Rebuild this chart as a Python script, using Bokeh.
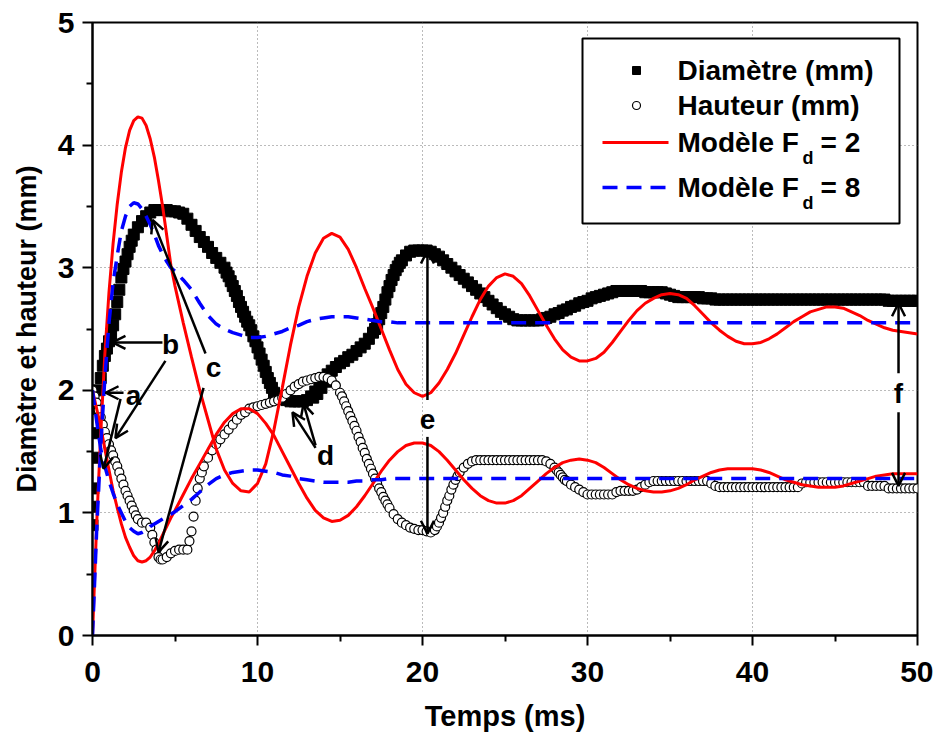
import numpy as np
from bokeh.plotting import figure
from bokeh.models import Range1d, Arrow, OpenHead, Label, FixedTicker
from bokeh.embed import file_html
from bokeh.resources import INLINE

# ---------------- data ----------------
# measured series, sampled every 0.25 ms from 0 to 50 ms
time_meas = np.round(np.arange(0, 50.0001, 0.25), 3)
diametre = [
    0.9, 1.85, 2.1, 2.28, 2.4, 2.53, 2.72, 2.92, 3.05, 3.17, 3.27, 3.33, 3.38, 3.42, 3.45, 3.47, 3.47, 3.47, 3.47, 3.46,
    3.46, 3.45, 3.44, 3.4, 3.35, 3.3, 3.25, 3.21, 3.17, 3.12, 3.08, 3.04, 3.0, 2.93, 2.85, 2.77, 2.68, 2.6, 2.53, 2.44,
    2.35, 2.25, 2.15, 2.06, 1.98, 1.95, 1.93, 1.92, 1.91, 1.91, 1.91, 1.91, 1.92, 1.95, 1.99, 2.04, 2.09, 2.13, 2.16, 2.19,
    2.22, 2.24, 2.27, 2.29, 2.32, 2.35, 2.38, 2.42, 2.47, 2.54, 2.63, 2.74, 2.85, 2.94, 3.01, 3.06, 3.1, 3.13, 3.14, 3.14,
    3.14, 3.14, 3.13, 3.11, 3.09, 3.06, 3.03, 3.0, 2.97, 2.94, 2.91, 2.88, 2.85, 2.82, 2.79, 2.76, 2.73, 2.7, 2.67, 2.64,
    2.62, 2.6, 2.58, 2.57, 2.57, 2.57, 2.57, 2.57, 2.57, 2.58, 2.59, 2.6, 2.62, 2.63, 2.65, 2.66, 2.68, 2.69, 2.71, 2.72,
    2.73, 2.75, 2.76, 2.77, 2.78, 2.79, 2.8, 2.81, 2.81, 2.81, 2.81, 2.81, 2.81, 2.81, 2.8, 2.8, 2.8, 2.8, 2.8, 2.79,
    2.78, 2.77, 2.76, 2.76, 2.76, 2.76, 2.76, 2.76, 2.75, 2.75, 2.75, 2.74, 2.74, 2.74, 2.74, 2.74, 2.74, 2.74, 2.74, 2.74,
    2.74, 2.74, 2.74, 2.74, 2.74, 2.74, 2.74, 2.74, 2.74, 2.74, 2.74, 2.74, 2.74, 2.74, 2.74, 2.74, 2.74, 2.74, 2.74, 2.74,
    2.74, 2.74, 2.74, 2.74, 2.74, 2.74, 2.74, 2.74, 2.74, 2.74, 2.74, 2.74, 2.74, 2.73, 2.73, 2.73, 2.73, 2.73, 2.73, 2.73,
    2.73,
]
# extra diameter readings where the curve is steep
diam_extra_t = [0.025, 0.05, 0.1, 0.15, 0.375, 0.625, 0.875, 1.125, 1.375, 1.625, 1.875, 2.125, 2.375,
                8.125, 8.375, 8.625, 8.875, 9.125, 9.375, 9.625, 9.875, 10.125, 10.375, 10.625, 10.875,
                13.375, 13.625, 13.875, 14.125, 14.375,
                17.125, 17.375, 17.625, 17.875, 18.125, 18.375, 18.625]
diam_extra = [1.05, 1.2, 1.45, 1.65, 2.0, 2.2, 2.34, 2.46, 2.62, 2.82, 2.99, 3.11, 3.22,
              2.96, 2.89, 2.81, 2.72, 2.64, 2.56, 2.49, 2.4, 2.3, 2.2, 2.1, 2.02,
              1.94, 1.97, 2.02, 2.07, 2.11,
              2.5, 2.58, 2.68, 2.8, 2.9, 2.98, 3.04]
hauteur = [
    2.0, 1.9, 1.78, 1.66, 1.56, 1.47, 1.38, 1.28, 1.18, 1.1, 1.02, 0.95, 0.92, 0.92, 0.88, 0.76, 0.64, 0.62, 0.64, 0.67,
    0.69, 0.7, 0.7, 0.7, 0.85, 1.1, 1.28, 1.38, 1.45, 1.51, 1.56, 1.6, 1.64, 1.68, 1.72, 1.76, 1.8, 1.82, 1.85, 1.86,
    1.87, 1.88, 1.89, 1.9, 1.91, 1.92, 1.94, 1.97, 2.0, 2.03, 2.05, 2.07, 2.08, 2.09, 2.1, 2.11, 2.11, 2.1, 2.08, 2.04,
    1.98, 1.91, 1.83, 1.75, 1.67, 1.58, 1.49, 1.4, 1.32, 1.24, 1.17, 1.1, 1.04, 0.99, 0.95, 0.92, 0.9, 0.88, 0.87, 0.86,
    0.86, 0.85, 0.84, 0.86, 0.92, 1.0, 1.1, 1.19, 1.27, 1.33, 1.37, 1.4, 1.42, 1.43, 1.43, 1.43, 1.43, 1.43, 1.43, 1.43,
    1.43, 1.43, 1.43, 1.43, 1.43, 1.43, 1.43, 1.43, 1.43, 1.43, 1.42, 1.4, 1.37, 1.33, 1.29, 1.26, 1.23, 1.21, 1.19, 1.17,
    1.15, 1.15, 1.15, 1.15, 1.15, 1.15, 1.15, 1.17, 1.18, 1.18, 1.18, 1.18, 1.19, 1.21, 1.23, 1.25, 1.26, 1.26, 1.26, 1.26,
    1.26, 1.26, 1.26, 1.26, 1.26, 1.26, 1.26, 1.26, 1.26, 1.26, 1.24, 1.22, 1.21, 1.21, 1.21, 1.21, 1.21, 1.21, 1.21, 1.21,
    1.21, 1.21, 1.21, 1.21, 1.21, 1.21, 1.21, 1.21, 1.21, 1.21, 1.21, 1.21, 1.24, 1.25, 1.25, 1.25, 1.25, 1.25, 1.25, 1.25,
    1.25, 1.25, 1.25, 1.25, 1.25, 1.25, 1.25, 1.25, 1.22, 1.22, 1.22, 1.22, 1.22, 1.2, 1.2, 1.2, 1.2, 1.2, 1.2, 1.2,
    1.2,
]
# extra height readings where the curve is steep
haut_extra_t = [0.125, 0.375, 0.625, 0.875, 1.125, 1.375, 1.625, 1.875, 2.125, 2.375, 2.625,
                3.625, 3.875, 4.125, 5.875, 6.125, 6.375, 6.625,
                15.125, 15.375, 15.625, 15.875, 16.125, 16.375, 16.625, 16.875, 17.125, 17.375, 17.625, 17.875,
                20.875, 21.125, 21.375, 21.625, 21.875, 22.125, 28.125, 28.375, 28.625]
haut_extra = [1.95, 1.84, 1.72, 1.61, 1.51, 1.42, 1.33, 1.23, 1.14, 1.06, 0.98,
              0.82, 0.7, 0.62, 0.77, 0.97, 1.2, 1.33,
              1.95, 1.87, 1.79, 1.71, 1.62, 1.53, 1.44, 1.36, 1.28, 1.2, 1.13, 1.07,
              0.89, 0.96, 1.05, 1.14, 1.23, 1.3, 1.35, 1.31, 1.27]

# model curves: 0.25 ms steps up to 5 ms, then 0.5 ms steps
time_model = np.round(np.concatenate([np.arange(0, 5, 0.25), np.arange(5, 50.0001, 0.5)]), 3)
modele2_diam = [
    0.0, 0.9, 1.65, 2.3, 2.8, 3.2, 3.52, 3.78, 3.98, 4.12, 4.2, 4.23, 4.22, 4.16, 4.05, 3.9, 3.71, 3.5, 3.26, 3.02,
    2.85, 2.55, 2.27, 2.0, 1.76, 1.52, 1.35, 1.24, 1.18, 1.17,
    1.24, 1.4, 1.68, 2.02, 2.37, 2.68, 2.93, 3.12, 3.24, 3.28,
    3.25, 3.15, 3.0, 2.83, 2.67, 2.5, 2.33, 2.17, 2.05, 1.98,
    1.95, 1.98, 2.06, 2.17, 2.3, 2.45, 2.6, 2.74, 2.85, 2.92,
    2.95, 2.93, 2.87, 2.77, 2.65, 2.53, 2.42, 2.33, 2.27, 2.24,
    2.24, 2.26, 2.31, 2.39, 2.48, 2.57, 2.65, 2.71, 2.75, 2.78,
    2.79, 2.78, 2.75, 2.69, 2.62, 2.55, 2.49, 2.44, 2.4, 2.38,
    2.38, 2.39, 2.42, 2.46, 2.51, 2.56, 2.6, 2.64, 2.66, 2.68,
    2.68, 2.67, 2.64, 2.61, 2.57, 2.54, 2.51, 2.49, 2.48, 2.47,
    2.46,
]
modele2_haut = [
    2.0, 1.85, 1.7, 1.52, 1.35, 1.18, 1.04, 0.91, 0.8, 0.72, 0.65, 0.61, 0.6, 0.61, 0.64, 0.69, 0.75, 0.82, 0.89, 0.96,
    1.02, 1.15, 1.28, 1.4, 1.52, 1.64, 1.74, 1.81, 1.85, 1.85,
    1.81, 1.73, 1.63, 1.5, 1.37, 1.24, 1.12, 1.02, 0.96, 0.93,
    0.94, 0.98, 1.05, 1.14, 1.24, 1.34, 1.43, 1.5, 1.55, 1.57,
    1.57, 1.55, 1.5, 1.43, 1.35, 1.27, 1.2, 1.14, 1.1, 1.08,
    1.08, 1.1, 1.14, 1.2, 1.26, 1.32, 1.37, 1.41, 1.43, 1.44,
    1.43, 1.41, 1.37, 1.32, 1.27, 1.23, 1.2, 1.18, 1.17, 1.17,
    1.18, 1.2, 1.23, 1.27, 1.3, 1.33, 1.35, 1.36, 1.36, 1.36,
    1.36, 1.35, 1.33, 1.3, 1.27, 1.25, 1.23, 1.22, 1.21, 1.21,
    1.21, 1.22, 1.24, 1.26, 1.28, 1.3, 1.31, 1.32, 1.32, 1.32,
    1.32,
]
modele8_diam = [
    0.0, 0.85, 1.55, 2.1, 2.55, 2.88, 3.1, 3.3, 3.42, 3.5, 3.53, 3.52, 3.48, 3.42, 3.35, 3.27, 3.18, 3.11, 3.05, 3.0,
    2.97, 2.9, 2.82, 2.71, 2.61, 2.54, 2.5, 2.47, 2.45, 2.43,
    2.43, 2.44, 2.46, 2.48, 2.51, 2.53, 2.56, 2.58, 2.59, 2.6,
    2.6, 2.6, 2.59, 2.58, 2.57, 2.56, 2.56, 2.55, 2.55, 2.55,
    2.55, 2.55, 2.55, 2.55, 2.55, 2.55, 2.55, 2.55, 2.55, 2.55,
    2.55, 2.55, 2.55, 2.55, 2.55, 2.55, 2.55, 2.55, 2.55, 2.55,
    2.55, 2.55, 2.55, 2.55, 2.55, 2.55, 2.55, 2.55, 2.55, 2.55,
    2.55, 2.55, 2.55, 2.55, 2.55, 2.55, 2.55, 2.55, 2.55, 2.55,
    2.55, 2.55, 2.55, 2.55, 2.55, 2.55, 2.55, 2.55, 2.55, 2.55,
    2.55, 2.55, 2.55, 2.55, 2.55, 2.55, 2.55, 2.55, 2.55, 2.55,
    2.55,
]
modele8_haut = [
    2.0, 1.75, 1.52, 1.38, 1.26, 1.16, 1.07, 1.0, 0.93, 0.88, 0.85, 0.83, 0.84, 0.86, 0.89, 0.91, 0.93, 0.95, 0.97, 0.99,
    1.01, 1.06, 1.11, 1.17, 1.23, 1.28, 1.31, 1.33, 1.34, 1.35,
    1.35, 1.34, 1.33, 1.31, 1.3, 1.28, 1.27, 1.26, 1.25, 1.25,
    1.25, 1.25, 1.26, 1.26, 1.27, 1.27, 1.28, 1.28, 1.28, 1.28,
    1.28, 1.28, 1.28, 1.28, 1.28, 1.28, 1.28, 1.28, 1.28, 1.28,
    1.28, 1.28, 1.28, 1.28, 1.28, 1.28, 1.28, 1.28, 1.28, 1.28,
    1.28, 1.28, 1.28, 1.28, 1.28, 1.28, 1.28, 1.28, 1.28, 1.28,
    1.28, 1.28, 1.28, 1.28, 1.28, 1.28, 1.28, 1.28, 1.28, 1.28,
    1.28, 1.28, 1.28, 1.28, 1.28, 1.28, 1.28, 1.28, 1.28, 1.28,
    1.28, 1.28, 1.28, 1.28, 1.28, 1.28, 1.28, 1.28, 1.28, 1.28,
    1.28,
]

x_ticks = [0, 10, 20, 30, 40, 50]
x_minor = [5, 15, 25, 35, 45]
y_ticks = [0, 1, 2, 3, 4, 5]
y_minor = [0.5, 1.5, 2.5, 3.5, 4.5]

legend_labels = ["Diamètre (mm)", "Hauteur (mm)", "Modèle F", "Modèle F"]
legend_subs = ["", "", "d", "d"]
legend_tails = ["", "", "= 2", "= 8"]

# ---------------- figure ----------------
FONT = "Liberation Sans"
X0, X1, Y0, Y1 = 0, 50, 0, 5
FW, FH = 825, 613
LEFT, TOP = 92, 22

p = figure(frame_width=FW, frame_height=FH,
           x_range=Range1d(X0, X1), y_range=Range1d(Y0, Y1),
           output_backend="svg", toolbar_location=None,
           min_border_left=LEFT, min_border_right=16, min_border_top=TOP, min_border_bottom=102,
           background_fill_color="white", border_fill_color="white")
p.outline_line_color = "black"
p.outline_line_width = 2

for ax, ticks, minor in ((p.xaxis[0], x_ticks, x_minor), (p.yaxis[0], y_ticks, y_minor)):
    ax.ticker = FixedTicker(ticks=ticks, minor_ticks=minor)
    ax.axis_line_width = 2
    ax.major_tick_line_width = 2
    ax.minor_tick_line_width = 2
    ax.major_tick_out = 10
    ax.major_tick_in = 0
    ax.minor_tick_out = 6
    ax.minor_tick_in = 0
    ax.major_label_text_font = FONT
    ax.major_label_text_font_size = "30px"
    ax.major_label_text_font_style = "bold"
    ax.major_label_text_color = "black"
    ax.axis_label_text_font = FONT
    ax.axis_label_text_font_style = "bold"
    ax.axis_label_text_color = "black"

p.xaxis.axis_label = "Temps (ms)"
p.yaxis.axis_label = "Diamètre et hauteur (mm)"
p.xaxis.axis_label_text_font_size = "29px"
p.yaxis.axis_label_text_font_size = "27px"
p.xaxis.major_label_standoff = 16
p.yaxis.major_label_standoff = 8
p.xaxis.axis_label_standoff = 15
p.yaxis.axis_label_standoff = 13

p.xgrid.ticker = FixedTicker(ticks=x_ticks[1:-1])
p.ygrid.ticker = FixedTicker(ticks=y_ticks[1:-1])
for g in (p.xgrid[0], p.ygrid[0]):
    g.grid_line_color = "#777777"
    g.grid_line_dash = "1 3"
    g.grid_line_width = 1

# measured data
d_t = np.concatenate([time_meas, diam_extra_t])
d_v = np.concatenate([diametre, diam_extra])
o = np.argsort(d_t, kind="stable")
p.scatter(d_t[o], d_v[o], marker="square", size=11, fill_color="black", line_color="black")
h_t = np.concatenate([time_meas, haut_extra_t])
h_v = np.concatenate([hauteur, haut_extra])
o = np.argsort(h_t, kind="stable")
p.scatter(h_t[o], h_v[o], marker="circle", size=9, fill_color="white", line_color="black", line_width=1.2)

# models
RED, BLUE = "#ff0000", "#0000ff"
p.line(time_model, modele2_diam, line_color=RED, line_width=3)
p.line(time_model, modele2_haut, line_color=RED, line_width=3)
p.line(time_model, modele8_diam, line_color=BLUE, line_width=3.5, line_dash="15 9")
p.line(time_model, modele8_haut, line_color=BLUE, line_width=3.5, line_dash="15 9")

# ---------------- annotations ----------------
arrows = [
    ((1.88, 1.98), (0.79, 1.98)),
    ((1.70, 1.93), (0.67, 1.36)),
    ((4.24, 2.39), (1.21, 2.39)),
    ((4.42, 2.24), (1.39, 1.61)),
    ((6.85, 2.30), (3.64, 3.39)),
    ((6.73, 2.02), (4.00, 0.68)),
    ((13.52, 1.53), (12.12, 1.82)),
    ((13.52, 1.55), (12.79, 1.89)),
    ((20.30, 1.92), (20.30, 3.14)),
    ((20.30, 1.62), (20.30, 0.83)),
    ((48.85, 2.14), (48.85, 2.71)),
    ((48.85, 1.82), (48.85, 1.22)),
]
for (xs, ys), (xe, ye) in arrows:
    p.add_layout(Arrow(x_start=xs, y_start=ys, x_end=xe, y_end=ye, line_width=2.5, line_color="black",
                       end=OpenHead(size=13, line_width=2.5, line_color="black")))

letters = [("a", 2.48, 1.96), ("b", 4.73, 2.37), ("c", 7.33, 2.19),
           ("d", 14.12, 1.47), ("e", 20.30, 1.76), ("f", 48.85, 1.97)]
for t, x, y in letters:
    p.add_layout(Label(x=x, y=y, text=t, text_font=FONT, text_font_size="28px", text_font_style="bold",
                       text_align="center", text_baseline="middle", text_color="black"))

# ---------------- legend (drawn by hand because of the subscript) ----------------
def dx(px):  # picture pixel -> data x
    return X0 + (px - LEFT) / FW * (X1 - X0)

def dy(py):  # picture pixel -> data y
    return Y0 + (TOP + FH - py) / FH * (Y1 - Y0)

p.quad(left=[dx(582)], right=[dx(899)], top=[dy(38)], bottom=[dy(223)],
       fill_color="white", line_color="black", line_width=2)
rows = [dy(70), dy(105), dy(142), dy(187)]
p.scatter([dx(636)], [rows[0]], marker="square", size=8, fill_color="black", line_color="black")
p.scatter([dx(636)], [rows[1]], marker="circle", size=8, fill_color="white", line_color="black", line_width=1.2)
p.line([dx(602), dx(668)], [rows[2], rows[2]], line_color=RED, line_width=3)
p.line([dx(602), dx(668)], [rows[3], rows[3]], line_color=BLUE, line_width=3.5, line_dash="15 9")
for lab, sub, tail, ry in zip(legend_labels, legend_subs, legend_tails, rows):
    p.add_layout(Label(x=dx(677), y=ry, text=lab, text_font=FONT, text_font_size="28px",
                       text_font_style="bold", text_baseline="middle", text_color="black"))
    if sub:
        p.add_layout(Label(x=dx(677), y=ry, x_offset=125, y_offset=-15, text=sub, text_font=FONT,
                           text_font_size="18px", text_font_style="bold", text_baseline="middle",
                           text_color="black"))
        p.add_layout(Label(x=dx(677), y=ry, x_offset=143, text=tail, text_font=FONT, text_font_size="28px",
                           text_font_style="bold", text_baseline="middle", text_color="black"))

open("out.html", "w").write(file_html(p, INLINE))
